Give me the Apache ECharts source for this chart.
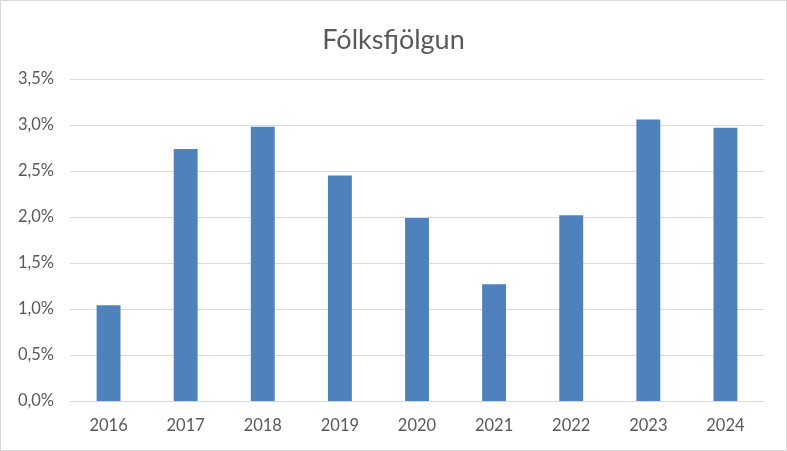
<!DOCTYPE html>
<html><head><meta charset="utf-8">
<script src="https://cdn.jsdelivr.net/npm/echarts@6/dist/echarts.min.js"></script>
<style>html,body{margin:0;padding:0;background:#fff;}#c{width:787px;height:451px;box-sizing:border-box;border:1px solid #d9d9d9;}</style>
</head><body><div id="c"></div>
<script>
const categories = ['2016','2017','2018','2019','2020','2021','2022','2023','2024'];
const values = [1.04, 2.74, 2.98, 2.45, 1.99, 1.27, 2.02, 3.06, 2.97];
const titleText = 'Fólksfjölgun';
const chart = echarts.init(document.getElementById('c'));
chart.setOption({
  animation: false,
  title: {text: titleText, left: 'center', top: 21, textStyle: {fontFamily: 'Lato', fontSize: 27, fontWeight: 'normal', color: '#595959'}},
  grid: {left: 69, right: 22, top: 78, bottom: 49},
  xAxis: {type: 'category', data: categories,
    axisLine: {lineStyle: {color: '#d9d9d9', width: 1}}, axisTick: {show: false},
    axisLabel: {color: '#595959', fontSize: 16.5, fontFamily: 'Lato', margin: 16}},
  yAxis: {type: 'value', min: 0, max: 3.5, interval: 0.5,
    axisLine: {show: false}, axisTick: {show: false},
    splitLine: {lineStyle: {color: '#d9d9d9', width: 1}},
    axisLabel: {color: '#595959', fontSize: 16.5, fontFamily: 'Lato', margin: 16,
      formatter: v => v.toFixed(1).replace('.', ',') + '%'}},
  series: [{type: 'bar', data: values, barWidth: '31%', itemStyle: {color: '#4f81bd'}}]
});
</script></body></html>
